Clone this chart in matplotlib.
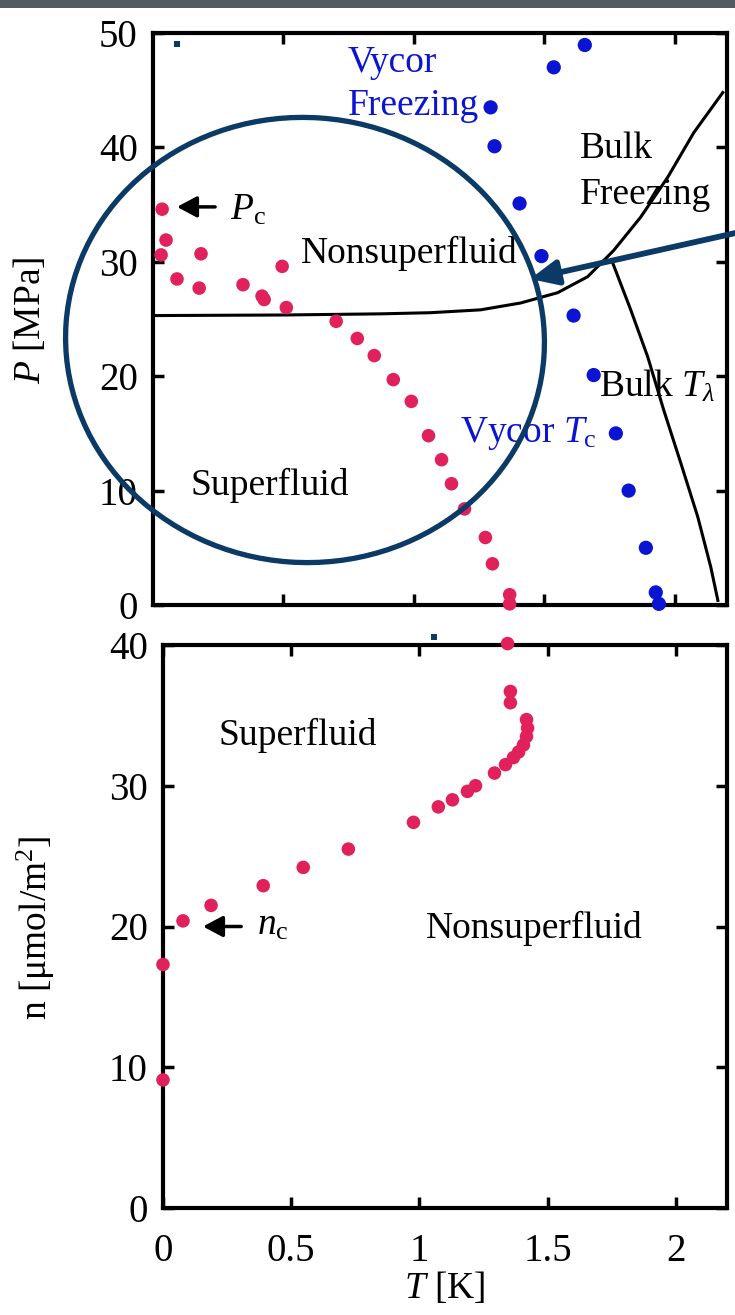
import numpy as np
import matplotlib.pyplot as plt
from matplotlib.patches import Ellipse, FancyArrowPatch, Rectangle

plt.rcParams['font.family'] = ['Liberation Serif', 'DejaVu Serif']
plt.rcParams['mathtext.fontset'] = 'custom'
plt.rcParams['mathtext.rm'] = 'Liberation Serif'
plt.rcParams['mathtext.it'] = 'Liberation Serif:italic'

# ---------------- datos: panel superior (P vs T) ----------------
film_T = [0.035, 0.050, 0.031, 0.092, 0.184, 0.177, 0.345, 0.418, 0.426, 0.495,
          0.511, 0.702, 0.783, 0.848, 0.921, 0.990, 1.056, 1.106, 1.144, 1.194,
          1.274, 1.301, 1.367, 1.367]
film_P = [34.6, 31.9, 30.6, 28.5, 30.7, 27.7, 28.0, 27.0, 26.7, 29.6,
          26.0, 24.8, 23.3, 21.8, 19.7, 17.8, 14.8, 12.7, 10.6, 8.4,
          5.9, 3.6, 0.9, 0.1]

vycor_T = [1.655, 1.536, 1.294, 1.309, 1.405, 1.489, 1.612, 1.689, 1.774,
           1.823, 1.889, 1.927, 1.939]
vycor_P = [48.95, 47.0, 43.5, 40.1, 35.1, 30.5, 25.3, 20.1, 15.0,
           10.0, 5.0, 1.1, 0.1]

melt_T = [0.0, 0.5, 0.871, 1.063, 1.255, 1.409, 1.551, 1.666, 1.766,
          1.869, 1.973, 2.073, 2.184]
melt_P = [25.3, 25.35, 25.45, 25.55, 25.8, 26.4, 27.3, 28.7, 31.0,
          33.9, 37.4, 41.3, 44.8]

lam_T = [1.762, 1.831, 1.896, 1.958, 2.023, 2.088, 2.138, 2.165]
lam_P = [29.9, 25.8, 21.7, 17.0, 12.4, 7.7, 3.3, 0.4]

# ---------------- datos: panel inferior (n vs T) ----------------
dens_T = [0.0, 0.0, 0.078, 0.1875, 0.391, 0.547, 0.723, 0.977, 1.074, 1.129,
          1.1875, 1.219, 1.293, 1.336, 1.367, 1.387, 1.406, 1.418, 1.422, 1.418,
          1.355, 1.355, 1.344]
dens_n = [9.1, 17.3, 20.4, 21.5, 22.9, 24.2, 25.5, 27.4, 28.5, 29.0,
          29.6, 30.0, 30.9, 31.5, 32.0, 32.4, 32.9, 33.5, 34.1, 34.7,
          35.9, 36.7, 40.1]

red = '#e0215b'
blue = '#0a14d2'
navy = '#0b3a66'
fs_tick = 28
fs_lab = 27

fig = plt.figure(figsize=(7.35, 13.15), dpi=100)
W, H = 735.0, 1315.0
ax1 = fig.add_axes([153 / W, 1 - 605 / H, 574 / W, 572 / H])
ax2 = fig.add_axes([163 / W, 1 - 1208 / H, 564 / W, 563 / H])

for ax in (ax1, ax2):
    for s in ax.spines.values():
        s.set_linewidth(3)
    ax.tick_params(direction='in', length=8, width=2.5, top=True, right=True,
                   labelsize=fs_tick)
    ax.tick_params(axis='y', pad=11)

arrow_blk = dict(arrowstyle='-|>,head_length=0.75,head_width=0.4', color='black',
                 lw=2.5, mutation_scale=16, shrinkA=0, shrinkB=0)

# panel superior
ax1.plot(melt_T, melt_P, color='black', lw=2.2, zorder=2)
ax1.plot(lam_T, lam_P, color='black', lw=2.2, zorder=2)
ax1.scatter(film_T, film_P, s=95, color=red, edgecolors='none', zorder=5, clip_on=False)
ax1.scatter(vycor_T, vycor_P, s=105, color=blue, edgecolors='none', zorder=5, clip_on=False)
ax1.set_xlim(0, 2.2)
ax1.set_ylim(0, 50)
ax1.set_xticks([0.5, 1, 1.5, 2])
ax1.set_xticklabels([])
ax1.set_yticks([0, 10, 20, 30, 40, 50])

ax1.text(0.745, 46.6, 'Vycor', color=blue, fontsize=fs_lab)
ax1.text(0.745, 42.8, 'Freezing', color=blue, fontsize=fs_lab)
ax1.text(1.635, 39.1, 'Bulk', fontsize=fs_lab)
ax1.text(1.635, 35.05, 'Freezing', fontsize=fs_lab)
ax1.text(0.568, 29.9, 'Nonsuperfluid', fontsize=fs_lab)
ax1.text(0.142, 9.6, 'Superfluid', fontsize=fs_lab)
ax1.text(1.708, 18.2, r'Bulk $T_\lambda$', fontsize=fs_lab)
ax1.text(1.178, 14.25, r'Vycor $T_{\rm c}$', color=blue, fontsize=fs_lab)
ax1.text(0.296, 33.65, r'$P_{\rm c}$', fontsize=fs_lab)
ax1.annotate('', xy=(0.092, 34.8), xytext=(0.238, 34.8), arrowprops=arrow_blk)

# panel inferior
ax2.scatter(dens_T, dens_n, s=95, color=red, edgecolors='none', zorder=5, clip_on=False)
ax2.set_xlim(0, 2.2)
ax2.set_ylim(0, 40)
ax2.set_xticks([0, 0.5, 1, 1.5, 2])
ax2.set_xticklabels(['0', '0.5', '1', '1.5', '2'])
ax2.set_yticks([0, 10, 20, 30, 40])
ax2.tick_params(axis='x', pad=18)
ax2.set_xlabel(r'$T$ [K]', fontsize=fs_lab, labelpad=0)

ax2.text(0.215, 32.9, 'Superfluid', fontsize=fs_lab)
ax2.text(1.027, 19.2, 'Nonsuperfluid', fontsize=fs_lab)
ax2.text(0.367, 19.4, r'$n_{\rm c}$', fontsize=fs_lab)
ax2.annotate('', xy=(0.156, 20.0), xytext=(0.305, 20.0), arrowprops=arrow_blk)

# etiquetas de los ejes y
fig.text(30 / W, 1 - 320 / H, r'$P$ [MPa]', fontsize=fs_lab, rotation=90,
         ha='center', va='center')
fig.text(36 / W, 1 - 928 / H, r'n [μmol/m$^2$]', fontsize=fs_lab, rotation=90,
         ha='center', va='center')

# anotaciones de la diapositiva (en pulgadas de la figura)
tr = fig.dpi_scale_trans
fig.add_artist(Rectangle((0, (H - 8) / 100), W / 100, 0.08, transform=tr,
                         color='#545a60', lw=0))
fig.add_artist(Ellipse((3.05, (H - 340) / 100), 4.79, 4.45, angle=-4, transform=tr,
                       fill=False, edgecolor=navy, lw=3.8, zorder=10))
fig.add_artist(FancyArrowPatch((7.40, (H - 232) / 100), (5.30, (H - 279) / 100),
                               transform=tr, arrowstyle='-|>,head_length=0.55,head_width=0.25',
                               mutation_scale=30, color=navy, lw=4.2, zorder=11,
                               shrinkA=0, shrinkB=0))
for px, py in [(177, 44), (434, 637)]:
    fig.add_artist(Rectangle(((px - 3) / 100, (H - py - 3) / 100), 0.06, 0.06,
                             transform=tr, color=navy, lw=0))

fig.savefig('out.png', dpi=100)
